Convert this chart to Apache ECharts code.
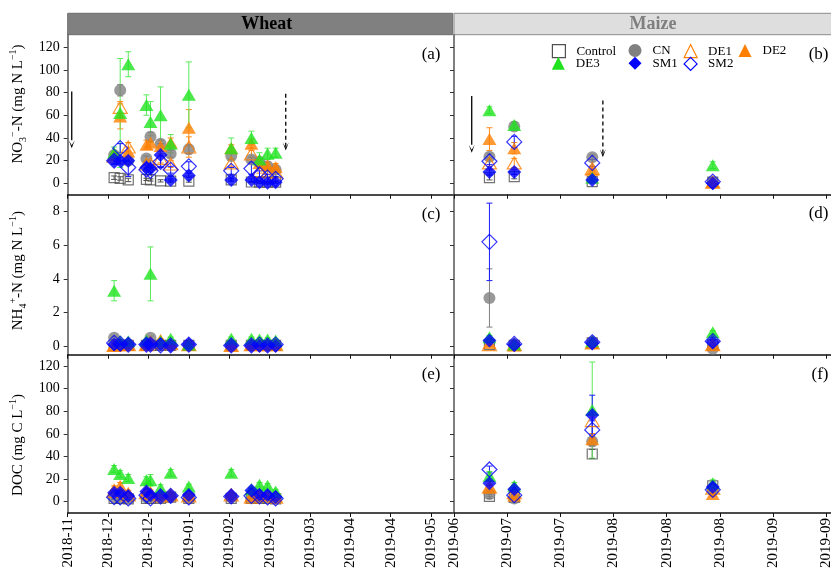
<!DOCTYPE html>
<html>
<head>
<meta charset="utf-8">
<script src="https://cdn.jsdelivr.net/npm/echarts@6/dist/echarts.min.js"></script>
<style>
html,body{margin:0;padding:0;background:#fff}
#chart{width:831px;height:570px}
</style>
</head>
<body>
<div id="chart"></div>
<script>
// ---- data ----
const treatments = ['Control', 'CN', 'DE1', 'DE2', 'DE3', 'SM1', 'SM2'];

const wheatDates = ['2018-12-13', '2018-12-16', '2018-12-20', '2018-12-29', '2018-12-31', '2019-01-05',
  '2019-01-10', '2019-01-19', '2019-02-09', '2019-02-19', '2019-02-23', '2019-02-27', '2019-03-03'];
const maizeDates = ['2019-06-27', '2019-07-04', '2019-07-26', '2019-08-29'];

// axis origins and tick spacing (days)
const wheatAxisStart = '2018-11-20';
const maizeAxisStart = '2019-06-17';
const wheatTicks = [0, 20, 40, 60, 80, 100, 120, 140, 160, 180];
const maizeTicks = [0, 15, 30, 45, 60, 75, 90, 105];

const no3Ticks = [0, 20, 40, 60, 80, 100, 120];
const nh4Ticks = [0, 2, 4, 6, 8];
const docTicks = [0, 20, 40, 60, 80, 100, 120];

// rows follow the treatments order
const no3WheatMean = [
  [5, 4.3, 3, 3.5, 3, 2.2, 2, 2, 3, 1.2, 1, 1, 1],
  [25, 82, 20, 22, 41, 35, 26, 30, 24, 21, 19, 15, 12],
  [24, 67, 32, 17, 17, 22, 17, 32, 18, 26, 11, 10, 10],
  [25, 59, 28, 34, 36, 33, 36, 49, 31, 35, 18, 16, 14.5],
  [27, 62, 105, 69, 54, 60, 35, 78, 31, 40, 21, 26, 27],
  [20, 20, 20, 14, 13, 25, 3, 7, 3, 3, 1, 0.5, 1],
  [20, 31, 14, 12, 11, 19, 12, 15, 11, 13, 8, 5, 4]
];
const no3WheatSd = [
  [1.5, 1.5, 1.5, 1, 1, 1, 1, 1, 1, 0.5, 0.5, 0.5, 0.5],
  [3, 5, 3, 2, 4, 3, 3, 4, 3, 2, 2, 2, 2],
  [3, 5, 4, 3, 3, 4, 3, 9, 3, 3, 2, 2, 2],
  [3, 11, 4, 4, 6, 5, 4, 16, 3, 4, 3, 3, 3],
  [5, 48, 11, 9, 18, 25, 8, 29, 9, 6, 6, 5, 4],
  [3, 3, 3, 3, 3, 10, 1, 2, 1, 1, 1, 1, 1],
  [3, 4, 8, 4, 3, 5, 3, 4, 3, 5, 3, 3, 2]
];
const no3MaizeMean = [
  [5, 6, 1.5, 1],
  [23.5, 50, 23, 1],
  [18, 18, 13, 1],
  [39, 31, 12, 1],
  [64.5, 51.5, 5, 16],
  [10, 10, 3, 0],
  [19.5, 36.5, 18, 1.5]
];
const no3MaizeSd = [
  [2, 2, 1, 0.5],
  [3, 3, 2, 0.5],
  [3, 4, 2, 0.5],
  [10, 5, 3, 0.5],
  [3, 3, 2, 3],
  [2, 2, 1, 1],
  [3, 5, 3, 3]
];

const nh4WheatMean = [
  [0.05, 0.05, 0.05, 0.05, 0.05, 0.05, 0.05, 0.05, 0.05, 0.05, 0.05, 0.05, 0.05],
  [0.5, 0.1, 0.1, 0.1, 0.5, 0.05, 0.05, 0.05, 0.05, 0.05, 0.05, 0.05, 0.05],
  [0.05, 0.1, 0.1, 0.1, 0.2, 0.3, 0.15, 0.1, 0.05, 0.1, 0.1, 0.1, 0.1],
  [0.05, 0.15, 0.1, 0.1, 0.3, 0.35, 0.2, 0.1, 0.05, 0.1, 0.15, 0.1, 0.1],
  [3.3, 0.3, 0.3, 0.35, 4.3, 0.3, 0.45, 0.1, 0.45, 0.45, 0.4, 0.4, 0.35],
  [0.1, 0.1, 0.1, 0.1, 0.1, 0.1, 0.05, 0.1, 0.05, 0.05, 0.05, 0.05, 0.05],
  [0.2, 0.15, 0.1, 0.1, 0.1, 0.05, 0.05, 0.1, 0.05, 0.05, 0.1, 0.05, 0.1]
];
const nh4WheatSd = [
  [0.05, 0.05, 0.05, 0.05, 0.05, 0.05, 0.05, 0.05, 0.05, 0.05, 0.05, 0.05, 0.05],
  [0.1, 0.05, 0.05, 0.05, 0.1, 0.05, 0.05, 0.05, 0.05, 0.05, 0.05, 0.05, 0.05],
  [0.1, 0.1, 0.1, 0.1, 0.1, 0.1, 0.1, 0.1, 0.1, 0.1, 0.1, 0.1, 0.1],
  [0.1, 0.1, 0.1, 0.1, 0.1, 0.1, 0.1, 0.1, 0.1, 0.1, 0.1, 0.1, 0.1],
  [0.6, 0.1, 0.1, 0.1, 1.6, 0.1, 0.1, 0.05, 0.1, 0.1, 0.1, 0.1, 0.1],
  [0.1, 0.1, 0.1, 0.1, 0.1, 0.1, 0.1, 0.1, 0.1, 0.1, 0.1, 0.1, 0.1],
  [0.2, 0.2, 0.2, 0.2, 0.2, 0.2, 0.2, 0.2, 0.2, 0.2, 0.2, 0.2, 0.2]
];
const nh4MaizeMean = [
  [0.1, 0.05, 0.2, 0.1],
  [2.87, 0.1, 0.25, -0.15],
  [0.1, 0.1, 0.2, 0.1],
  [0.2, 0.05, 0.2, 0.1],
  [0.53, 0.1, 0.3, 0.83],
  [0.34, 0.1, 0.2, 0.25],
  [6.2, 0.14, 0.24, 0.3]
];
const nh4MaizeSd = [
  [0.1, 0.05, 0.05, 0.05],
  [1.73, 0.05, 0.05, 0.05],
  [0.1, 0.1, 0.1, 0.1],
  [0.1, 0.1, 0.1, 0.1],
  [0.1, 0.1, 0.1, 0.1],
  [0.1, 0.1, 0.1, 0.1],
  [2.3, 0.2, 0.2, 0.2]
];

const docWheatMean = [
  [3, 3, 2.5, 3, 3, 3, 4, 3, 3, 3, 3, 3, 2.5],
  [4, 4, 3, 4, 4, 3, 4, 3, 4, 3, 3, 3, 3],
  [9, 9, 6, 8, 7, 5, 6, 5, 6, 4, 6, 5, 4],
  [11, 14, 8, 10, 8.5, 6, 7, 6, 7, 5, 7, 6, 5],
  [29, 24.5, 21, 19, 19, 12, 25.5, 13.5, 25.5, 11, 15, 14, 9],
  [8, 8, 5, 9, 6, 5, 5, 6, 5, 10, 6, 6, 4],
  [4, 3.8, 2.9, 5.8, 3, 4.7, 5.2, 3.8, 4.7, 5.2, 4.7, 3.8, 2.9]
];
const docWheatSd = [
  [1, 1, 1, 1, 1, 1, 1, 1, 1, 1, 1, 1, 1],
  [1, 1, 1, 1, 1, 1, 1, 1, 1, 1, 1, 1, 1],
  [2, 2, 2, 2, 2, 2, 2, 2, 2, 2, 2, 2, 2],
  [3, 3, 2, 2, 2, 2, 2, 2, 2, 2, 2, 2, 2],
  [3, 3, 3, 3, 5, 3, 3, 2, 3, 2, 2, 2, 2],
  [2, 2, 2, 2, 2, 2, 2, 2, 2, 2, 2, 2, 2],
  [2, 2, 2, 2, 2, 2, 2, 2, 2, 2, 2, 2, 2]
];
const docMaizeMean = [
  [4.7, 3.8, 42.2, 14],
  [6.7, 2.9, 53.3, 10],
  [13, 8, 71.7, 12],
  [12.5, 5.2, 55.3, 6.7],
  [22.7, 14, 81, 16.3],
  [16.3, 11, 76.6, 13],
  [28.5, 5.8, 63.5, 10.5]
];
const docMaizeSd = [
  [2, 1, 4, 2],
  [2, 1, 4, 2],
  [2, 2, 5, 2],
  [2, 2, 5, 2],
  [4, 3, 42.5, 3],
  [2, 2, 17.6, 2],
  [3, 3, 8, 3]
];

// fertiliser events: date, arrow top, arrow tip (mg N/L), line type
const wheatEvents = [['2018-11-22', 81, 31, 'solid'], ['2019-03-08', 79, 29, 'dashed']];
const maizeEvents = [['2019-06-22', 77, 27, 'solid'], ['2019-07-29', 73, 23, 'dashed']];

// ---- helpers ----
const DAY = 864e5;
const serif = '"Liberation Serif", "Times New Roman", serif';
function dayOffset(d, start) { return (Date.parse(d) - Date.parse(start)) / DAY; }
function monthLabel(start) {
  return function (v) {
    const d = new Date(Date.parse(start) + v * DAY);
    const m = d.getUTCMonth() + 1;
    return d.getUTCFullYear() + '-' + (m < 10 ? '0' + m : m);
  };
}

const look = {
  Control: { symbol: 'rect', size: 10, color: '#505050', open: true, bar: '#505050' },
  CN: { symbol: 'circle', size: 12, color: '#808080', open: false, bar: '#808080' },
  DE1: { symbol: 'triangle', size: [14, 12], color: '#ff7f00', open: true, bar: '#ff8c1a' },
  DE2: { symbol: 'triangle', size: [14, 12], color: '#ff7f00', open: false, bar: '#ff8c1a' },
  DE3: { symbol: 'triangle', size: [14, 12], color: '#1ee31e', open: false, bar: '#5aeb5a' },
  SM1: { symbol: 'diamond', size: 14, color: '#0000ff', open: false, bar: '#1a1aff' },
  SM2: { symbol: 'diamond', size: 15, color: '#0000ff', open: true, bar: '#1a1aff' }
};
function markerStyle(st) {
  return st.open
    ? { color: 'rgba(255,255,255,0)', borderColor: st.color, borderWidth: 1.2 }
    : { color: st.color, borderWidth: 0 };
}

// ---- layout ----
const leftX = 67.7, rightX = 454, panelW = 385, panelW2 = 386;
const rows = [{ top: 34.7, h: 160 }, { top: 194.7, h: 160 }, { top: 354.7, h: 158.3 }];
const grids = [];
rows.forEach(r => {
  grids.push({ left: leftX, top: r.top, width: panelW, height: r.h, outerBoundsMode: 'none', containLabel: false });
  grids.push({ left: rightX, top: r.top, width: panelW2, height: r.h, outerBoundsMode: 'none', containLabel: false });
});

const yRanges = [
  { min: -10, max: 131, ticks: no3Ticks },
  { min: -0.5, max: 9, ticks: nh4Ticks },
  { min: -10, max: 130, ticks: docTicks }
];

const xAxes = [], yAxes = [];
for (let g = 0; g < 6; g++) {
  const wheat = g % 2 === 0;
  const bottom = g >= 4;
  const ticks = wheat ? wheatTicks : maizeTicks;
  xAxes.push({
    type: 'value', gridIndex: g, min: 0, max: wheat ? 190.7 : 108.9,
    axisLine: { show: true, onZero: false, lineStyle: { color: '#111', width: 1.5 } },
    axisTick: { show: true, inside: false, length: 4, customValues: ticks, lineStyle: { color: '#111', width: 1 } },
    axisLabel: {
      show: bottom, rotate: 90, margin: 5, customValues: ticks,
      formatter: monthLabel(wheat ? wheatAxisStart : maizeAxisStart),
      fontFamily: serif, fontSize: 15, color: '#000'
    },
    splitLine: { show: false }
  });
  const yr = yRanges[Math.floor(g / 2)];
  yAxes.push({
    type: 'value', gridIndex: g, min: yr.min, max: yr.max,
    axisLine: { show: true, onZero: false, lineStyle: { color: '#606060', width: 1.6 } },
    axisTick: { show: true, inside: false, length: 4, customValues: yr.ticks, lineStyle: { color: '#333', width: 1 } },
    axisLabel: { show: wheat, margin: 8, customValues: yr.ticks, fontFamily: serif, fontSize: 14, color: '#000' },
    splitLine: { show: false }
  });
}

const panels = [
  { grid: 0, dates: wheatDates, start: wheatAxisStart, mean: no3WheatMean, sd: no3WheatSd },
  { grid: 1, dates: maizeDates, start: maizeAxisStart, mean: no3MaizeMean, sd: no3MaizeSd },
  { grid: 2, dates: wheatDates, start: wheatAxisStart, mean: nh4WheatMean, sd: nh4WheatSd },
  { grid: 3, dates: maizeDates, start: maizeAxisStart, mean: nh4MaizeMean, sd: nh4MaizeSd },
  { grid: 4, dates: wheatDates, start: wheatAxisStart, mean: docWheatMean, sd: docWheatSd },
  { grid: 5, dates: maizeDates, start: maizeAxisStart, mean: docMaizeMean, sd: docMaizeSd }
];

function errorBar(color) {
  return function (params, api) {
    const x = api.value(0), m = api.value(1), s = api.value(2);
    const a = api.coord([x, m + s]), b = api.coord([x, m - s]);
    const cw = 3, st = { stroke: color, lineWidth: 1 };
    return {
      type: 'group', children: [
        { type: 'line', shape: { x1: a[0], y1: a[1], x2: b[0], y2: b[1] }, style: st },
        { type: 'line', shape: { x1: a[0] - cw, y1: a[1], x2: a[0] + cw, y2: a[1] }, style: st },
        { type: 'line', shape: { x1: b[0] - cw, y1: b[1], x2: b[0] + cw, y2: b[1] }, style: st }
      ]
    };
  };
}

function eventArrow(params, api) {
  const x = api.value(0), top = api.value(1), tip = api.value(2), dashed = api.value(3) === 1;
  const a = api.coord([x, top]), b = api.coord([x, tip]);
  const head = 8, hw = 3;
  return {
    type: 'group', children: [
      { type: 'line', shape: { x1: a[0], y1: a[1], x2: b[0], y2: b[1] - (dashed ? 2 : head) },
        style: { stroke: '#000', lineWidth: 1.3, lineDash: dashed ? [4, 3] : null } },
      { type: 'polygon', shape: { points: [[b[0] - hw, b[1] - head], [b[0], b[1] - 3], [b[0] + hw, b[1] - head], [b[0], b[1]]] },
        style: { fill: '#000' } }
    ]
  };
}

const series = [];
panels.forEach(p => {
  treatments.forEach((t, k) => {
    series.push({
      type: 'custom', name: t, xAxisIndex: p.grid, yAxisIndex: p.grid, z: 2, silent: true,
      encode: { x: 0, y: 1 },
      data: p.dates.map((d, i) => [dayOffset(d, p.start), p.mean[k][i], p.sd[k][i]]),
      renderItem: errorBar(look[t].bar)
    });
  });
});
panels.forEach(p => {
  treatments.forEach((t, k) => {
    const st = look[t];
    series.push({
      type: 'scatter', name: t, xAxisIndex: p.grid, yAxisIndex: p.grid, z: 3, silent: true,
      symbol: st.symbol, symbolSize: st.size, itemStyle: markerStyle(st),
      data: p.dates.map((d, i) => [dayOffset(d, p.start), p.mean[k][i]])
    });
  });
});
[[0, wheatEvents, wheatAxisStart], [1, maizeEvents, maizeAxisStart]].forEach(([g, ev, start]) => {
  series.push({
    type: 'custom', name: 'fertilisation', xAxisIndex: g, yAxisIndex: g, z: 4, silent: true,
    encode: { x: 0, y: 1 },
    data: ev.map(e => [dayOffset(e[0], start), e[1], e[2], e[3] === 'dashed' ? 1 : 0]),
    renderItem: eventArrow
  });
});

// legend, two rows inside the maize NO3 panel
const legendSlots = [[551.8, 44], [628.5, 44], [683.5, 44], [738.5, 44], [551.8, 56.8], [628.5, 56.8], [683.5, 56.8]];
const legends = treatments.map((t, i) => {
  const st = look[t];
  return {
    left: legendSlots[i][0], top: legendSlots[i][1], padding: 0,
    itemWidth: 13, itemHeight: 13, selectedMode: false,
    textStyle: { fontFamily: serif, fontSize: 13, color: '#000', padding: [0, 0, 0, 6] },
    data: [{ name: t, icon: st.symbol, itemStyle: markerStyle(st) }]
  };
});

function richTitle() {
  return {
    sub: { fontSize: 10, fontFamily: serif, lineHeight: 10, verticalAlign: 'bottom', fill: '#000' },
    sup: { fontSize: 10, fontFamily: serif, lineHeight: 10, verticalAlign: 'top', fill: '#000' }
  };
}
function yTitle(text, y) {
  return {
    type: 'text', x: 18.3, y: y, rotation: Math.PI / 2, silent: true,
    style: { text: text, fontFamily: serif, fontSize: 15, lineHeight: 20, fill: '#000',
      align: 'center', verticalAlign: 'middle', rich: richTitle() }
  };
}
function panelTag(text, x, y) {
  return { type: 'text', x: x, y: y, silent: true,
    style: { text: text, fontFamily: serif, fontSize: 17, fill: '#000', align: 'right', verticalAlign: 'middle' } };
}

const graphic = [
  { type: 'rect', shape: { x: leftX, y: 13.3, width: panelW, height: 21.4 }, style: { fill: '#808080', stroke: '#6c6c6c', lineWidth: 1 }, silent: true },
  { type: 'text', x: 266.7, y: 24.5, silent: true,
    style: { text: 'Wheat', fontFamily: serif, fontSize: 18, fontWeight: 'bold', fill: '#000', align: 'center', verticalAlign: 'middle' } },
  { type: 'rect', shape: { x: rightX, y: 13.3, width: panelW2, height: 21.4 }, style: { fill: '#dedede', stroke: '#8c8c8c', lineWidth: 1 }, silent: true },
  { type: 'text', x: 653, y: 24.5, silent: true,
    style: { text: 'Maize', fontFamily: serif, fontSize: 18, fontWeight: 'bold', fill: '#7f7f7f', align: 'center', verticalAlign: 'middle' } },
  yTitle('NO{sub|3}{sup|−}-N (mg N L{sup|−1})', 104),
  yTitle('NH{sub|4}{sup|+}-N (mg N L{sup|−1})', 270.7),
  yTitle('DOC (mg C L{sup|−1})', 445),
  panelTag('(a)', 440.5, 54.5), panelTag('(b)', 828.5, 54.5),
  panelTag('(c)', 440.5, 215), panelTag('(d)', 828.5, 214),
  panelTag('(e)', 440.5, 375), panelTag('(f)', 828.5, 375)
];

const chart = echarts.init(document.getElementById('chart'), null, { renderer: 'canvas', width: 831, height: 570 });
chart.setOption({
  backgroundColor: '#fff',
  animation: false,
  grid: grids,
  xAxis: xAxes,
  yAxis: yAxes,
  legend: legends,
  series: series,
  graphic: graphic
});
</script>
</body>
</html>
